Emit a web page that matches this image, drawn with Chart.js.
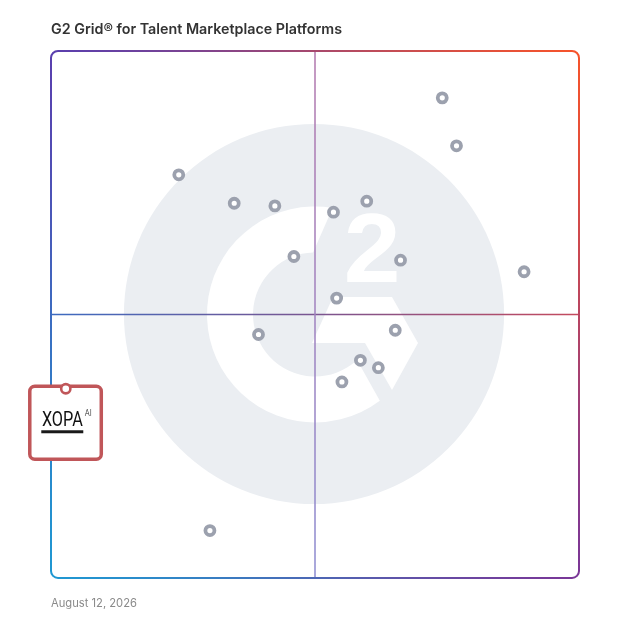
<!DOCTYPE html>
<html><head><meta charset="utf-8">
<script src="https://cdn.jsdelivr.net/npm/chart.js@4.4.1/dist/chart.umd.min.js"></script>
<style>html,body{margin:0;padding:0;background:#fff;} #wrap{width:628px;height:628px;}</style>
</head><body><div id="wrap"><canvas id="c" width="628" height="628"></canvas></div>
<script>
// ---- data ----
const titleText = "G2 Grid\u00AE for Talent Marketplace Platforms";
const dateText = "August 12, 2026";
// x = Market Presence (0-100), y = Satisfaction (0-100)
const vendorX = [74.1, 76.8, 24.2, 34.7, 42.4, 53.5, 59.8, 46.0, 66.2, 89.6, 54.1, 65.2, 39.3, 58.6, 62.0, 55.1, 30.1];
const vendorY = [91.1, 82.0, 76.5, 71.1, 70.6, 69.4, 71.5, 61.0, 60.3, 58.1, 53.1, 47.0, 46.2, 41.3, 39.9, 37.2, 9.0];
const featuredName = ["XOPA"];
const featuredX = [2.8];
const featuredY = [35.9];
const axisMin = 0, axisMax = 100, axisMid = 50;

const vendorPoints = vendorX.map((x, i) => ({x, y: vendorY[i]}));
const featuredPoints = featuredX.map((x, i) => ({x, y: featuredY[i]}));

function fitText(ctx, text, font, left, top, w, h) {
  ctx.save();
  ctx.font = font;
  ctx.textAlign = 'left';
  ctx.textBaseline = 'alphabetic';
  const m = ctx.measureText(text);
  const bw = m.actualBoundingBoxLeft + m.actualBoundingBoxRight;
  const bh = m.actualBoundingBoxAscent + m.actualBoundingBoxDescent;
  ctx.translate(left, top);
  ctx.scale(w / bw, h / bh);
  ctx.fillText(text, m.actualBoundingBoxLeft, m.actualBoundingBoxAscent);
  ctx.restore();
}

const gridPlugin = {
  id: 'g2grid',
  beforeDatasetsDraw(chart) {
    const ctx = chart.ctx;
    const a = chart.chartArea;
    const xs = chart.scales.x, ys = chart.scales.y;
    const cx = xs.getPixelForValue(axisMid), cy = ys.getPixelForValue(axisMid);
    const W = a.right - a.left;
    const d2r = Math.PI / 180;
    ctx.save();
    // big gray circle
    ctx.fillStyle = '#ebeef2';
    ctx.beginPath();
    ctx.arc(cx - 1, cy - 0.5, W * 0.36, 0, Math.PI * 2);
    ctx.fill();
    // C ring
    const R = 108, r = 62;
    ctx.fillStyle = '#ffffff';
    ctx.beginPath();
    ctx.arc(cx, cy, R, -80.6 * d2r, 53.1 * d2r, true);
    ctx.arc(cx, cy, r, 47.3 * d2r, 268.2 * d2r, false);
    ctx.closePath();
    ctx.fill();
    // chevron
    const chev = [[18, -17.5], [77, -17.5], [103, 28.5], [77, 75.5], [50, 28.5], [-3, 28.5]];
    ctx.beginPath();
    chev.forEach((p, i) => { if (i === 0) ctx.moveTo(cx + p[0], cy + p[1]); else ctx.lineTo(cx + p[0], cy + p[1]); });
    ctx.closePath();
    ctx.fill();
    // superscript 2
    ctx.fillStyle = '#ffffff';
    fitText(ctx, '2', 'bold 100px "Liberation Sans"', cx + 31.7, cy - 101.5, 50, 69);

    // midlines
    const hg = ctx.createLinearGradient(a.left, 0, a.right, 0);
    hg.addColorStop(0, '#3d6bc0');
    hg.addColorStop(0.5, '#7a5590');
    hg.addColorStop(1, '#c44a5e');
    ctx.strokeStyle = hg;
    ctx.lineWidth = 1.5;
    ctx.beginPath();
    ctx.moveTo(a.left, cy); ctx.lineTo(a.right, cy);
    ctx.stroke();
    const vg = ctx.createLinearGradient(0, a.top, 0, a.bottom);
    vg.addColorStop(0, '#b277ad');
    vg.addColorStop(1, '#8c8bd0');
    ctx.strokeStyle = vg;
    ctx.beginPath();
    ctx.moveTo(cx, a.top); ctx.lineTo(cx, a.bottom);
    ctx.stroke();

    // gradient border
    const cg = ctx.createConicGradient(-Math.PI * 0.75, (a.left + a.right) / 2, (a.top + a.bottom) / 2);
    cg.addColorStop(0, '#5a3fae');
    cg.addColorStop(0.25, '#f6532b');
    cg.addColorStop(0.5, '#7a3697');
    cg.addColorStop(0.75, '#1f98d2');
    cg.addColorStop(1, '#5a3fae');
    ctx.strokeStyle = cg;
    ctx.lineWidth = 2;
    ctx.beginPath();
    ctx.roundRect(a.left, a.top, W, a.bottom - a.top, 7);
    ctx.stroke();

    // featured vendor logo card
    const meta = chart.getDatasetMeta(1);
    meta.data.forEach((pt, i) => {
      const px = pt.x, py = pt.y;
      ctx.fillStyle = '#ffffff';
      ctx.strokeStyle = '#c05659';
      ctx.lineWidth = 3.5;
      ctx.beginPath();
      ctx.roundRect(px - 36, py - 2.5, 71.5, 73, 5);
      ctx.fill();
      ctx.stroke();
      ctx.fillStyle = '#111111';
      fitText(ctx, featuredName[i], '400 40px Roboto', px - 23.5, py + 23, 40.5, 14.5);
      fitText(ctx, 'AI', '300 20px Roboto', px + 19, py + 20.5, 6.5, 6.5);
      ctx.fillStyle = '#1a1a1a';
      ctx.fillRect(px - 24.5, py + 41.5, 42, 3);
    });
    ctx.restore();
  }
};

new Chart(document.getElementById('c'), {
  type: 'scatter',
  data: {
    datasets: [
      {
        label: 'Vendors',
        data: vendorPoints,
        pointRadius: 4.5,
        pointHoverRadius: 4.5,
        pointBorderWidth: 3.8,
        pointBackgroundColor: '#ffffff',
        pointBorderColor: '#9ca1ae'
      },
      {
        label: featuredName[0],
        data: featuredPoints,
        pointRadius: 4.6,
        pointHoverRadius: 4.6,
        pointBorderWidth: 2.6,
        pointBackgroundColor: '#ffffff',
        pointBorderColor: '#c05659'
      }
    ]
  },
  options: {
    responsive: false,
    animation: false,
    layout: { padding: { left: 51, right: 49, top: 0, bottom: 0 }, autoPadding: false },
    scales: {
      x: { type: 'linear', min: axisMin, max: axisMax, display: false },
      y: { type: 'linear', min: axisMin, max: axisMax, display: false }
    },
    plugins: {
      legend: { display: false },
      tooltip: { enabled: false },
      title: {
        display: true, text: titleText, align: 'start', color: '#333333',
        font: { family: 'Inter', size: 14.3, weight: '600', lineHeight: 1.2 },
        padding: { top: 21, bottom: 12.8 }
      },
      subtitle: {
        display: true, text: dateText, position: 'bottom', align: 'start', color: '#8a8a8a',
        font: { family: 'Inter', size: 11.2, weight: '400', lineHeight: 1.2 },
        padding: { top: 18.9, bottom: 17.7 }
      }
    }
  },
  plugins: [gridPlugin]
});
</script>
</body></html>
